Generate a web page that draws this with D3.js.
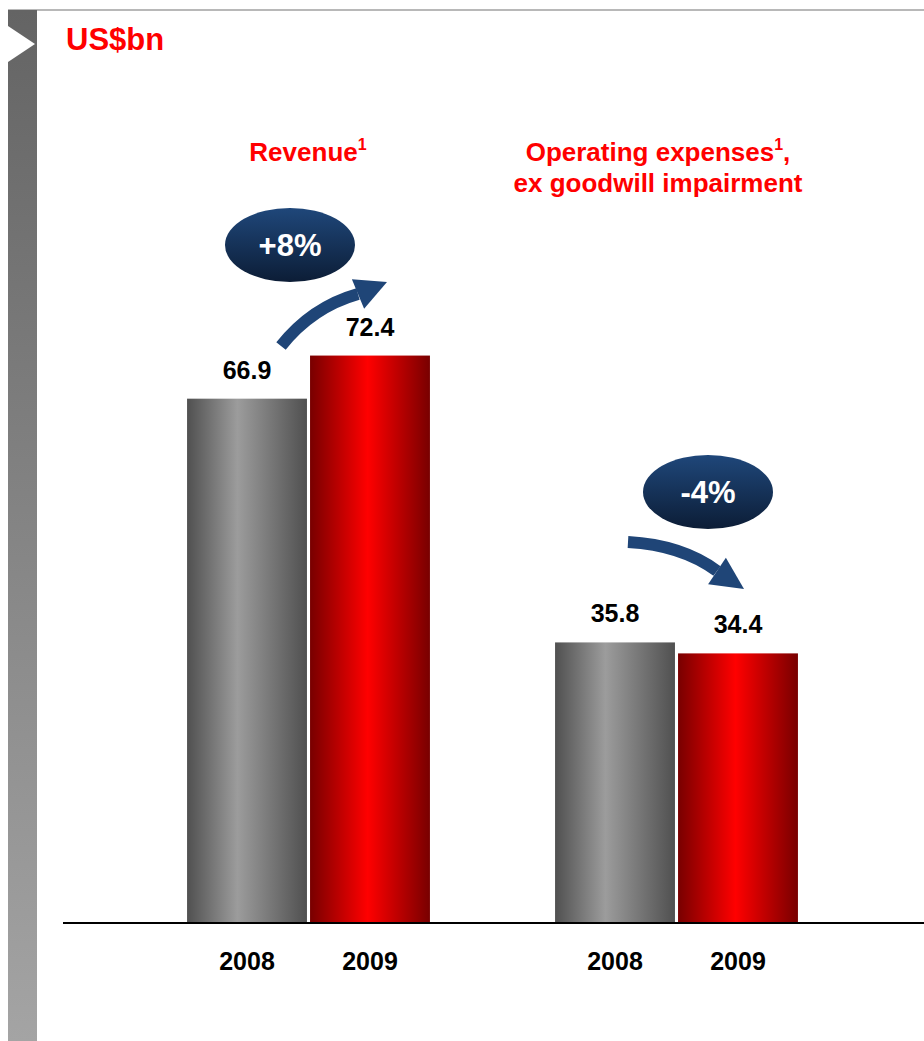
<!DOCTYPE html>
<html>
<head>
<meta charset="utf-8">
<script src="https://cdn.jsdelivr.net/npm/d3@7"></script>
<style>
  html, body { margin: 0; padding: 0; background: #fff; }
  svg { display: block; font-family: "Liberation Sans", Arial, sans-serif; }
</style>
</head>
<body>
<svg id="chart" width="924" height="1041"></svg>
<script>
// Data
const groups = ["Revenue", "Operating expenses"];
const years = ["2008", "2009"];
const revenue = [66.9, 72.4];
const opex = [35.8, 34.4];
const changes = ["+8%", "-4%"];

const svg = d3.select("#chart");
const defs = svg.append("defs");

// Gradients
function hGrad(id, edge, mid, midAt) {
  const g = defs.append("linearGradient").attr("id", id)
    .attr("x1", "0%").attr("x2", "100%").attr("y1", "0%").attr("y2", "0%");
  g.append("stop").attr("offset", "0%").attr("stop-color", edge);
  g.append("stop").attr("offset", midAt).attr("stop-color", mid);
  g.append("stop").attr("offset", "100%").attr("stop-color", edge);
}
hGrad("gradGray", "#505050", "#9c9c9c", "42%");
hGrad("gradRed", "#780000", "#ff0000", "48%");

const sideGrad = defs.append("linearGradient").attr("id", "gradSide")
  .attr("x1", "0").attr("x2", "0").attr("y1", "0").attr("y2", "1");
sideGrad.append("stop").attr("offset", "0%").attr("stop-color", "#646464");
sideGrad.append("stop").attr("offset", "100%").attr("stop-color", "#a4a4a4");

const ovalGrad = defs.append("linearGradient").attr("id", "gradOval")
  .attr("x1", "0").attr("x2", "0").attr("y1", "0").attr("y2", "1");
ovalGrad.append("stop").attr("offset", "0%").attr("stop-color", "#1f477a");
ovalGrad.append("stop").attr("offset", "100%").attr("stop-color", "#0c1d36");

// Page frame: top rule and left side band with notch
svg.append("rect").attr("x", 8).attr("y", 9).attr("width", 916).attr("height", 2).attr("fill", "#b8b8b8");
svg.append("rect").attr("x", 8).attr("y", 10).attr("width", 29).attr("height", 1031).attr("fill", "url(#gradSide)");
svg.append("path").attr("d", "M8,26 L35,44 L8,62 Z").attr("fill", "#fff");

// Unit title
svg.append("text").attr("x", 66).attr("y", 50)
  .attr("fill", "#ff0000").attr("font-weight", "bold").attr("font-size", 31)
  .text("US$bn");

// Scales
const y = d3.scaleLinear().domain([0, 80]).range([923, 296]);
const x0 = d3.scaleBand().domain(groups).range([124.5, 860.5]).paddingInner(0.34).paddingOuter(0.17);
const x1 = d3.scaleBand().domain(years).range([0, x0.bandwidth()]).paddingInner(0.025);

const data = [
  { group: groups[0], values: revenue },
  { group: groups[1], values: opex }
];

const g = svg.selectAll("g.grp").data(data).join("g")
  .attr("class", "grp")
  .attr("transform", d => `translate(${x0(d.group)},0)`);

const bars = g.selectAll("g.bar")
  .data(d => d.values.map((v, i) => ({ year: years[i], value: v })))
  .join("g").attr("class", "bar");

bars.append("rect")
  .attr("x", d => x1(d.year))
  .attr("y", d => y(d.value))
  .attr("width", x1.bandwidth())
  .attr("height", d => y(0) - y(d.value))
  .attr("fill", d => d.year === "2008" ? "url(#gradGray)" : "url(#gradRed)");

bars.append("text")
  .attr("x", d => x1(d.year) + x1.bandwidth() / 2)
  .attr("y", d => y(d.value) - 20)
  .attr("text-anchor", "middle")
  .attr("font-weight", "bold").attr("font-size", 25).attr("fill", "#000")
  .text(d => d.value.toFixed(1));

// Year labels
bars.append("text")
  .attr("x", d => x1(d.year) + x1.bandwidth() / 2)
  .attr("y", 970)
  .attr("text-anchor", "middle")
  .attr("font-weight", "bold").attr("font-size", 25).attr("fill", "#000")
  .text(d => d.year);

// Baseline
svg.append("line").attr("x1", 63).attr("x2", 924).attr("y1", y(0)).attr("y2", y(0))
  .attr("stroke", "#000").attr("stroke-width", 2);

// Group headings
const red = "#ff0000";
const h1 = svg.append("text").attr("x", 308).attr("y", 161).attr("text-anchor", "middle")
  .attr("fill", red).attr("font-weight", "bold").attr("font-size", 26);
h1.append("tspan").text("Revenue");
h1.append("tspan").attr("font-size", 16).attr("dy", -11).text("1");

const h2 = svg.append("text").attr("x", 658).attr("y", 161).attr("text-anchor", "middle")
  .attr("fill", red).attr("font-weight", "bold").attr("font-size", 26);
h2.append("tspan").text("Operating expenses");
h2.append("tspan").attr("font-size", 16).attr("dy", -11).text("1");
h2.append("tspan").attr("dy", 11).text(",");
svg.append("text").attr("x", 658).attr("y", 192).attr("text-anchor", "middle")
  .attr("fill", red).attr("font-weight", "bold").attr("font-size", 26)
  .text("ex goodwill impairment");

// Change ovals
const ovals = [
  { label: changes[0], cx: 290, cy: 245 },
  { label: changes[1], cx: 708, cy: 492 }
];
ovals.forEach(o => {
  svg.append("ellipse").attr("cx", o.cx).attr("cy", o.cy).attr("rx", 65).attr("ry", 37)
    .attr("fill", "url(#gradOval)");
  svg.append("text").attr("x", o.cx).attr("y", o.cy + 11).attr("text-anchor", "middle")
    .attr("fill", "#fff").attr("font-weight", "bold").attr("font-size", 31)
    .text(o.label);
});

// Curved arrows between bars
const arrowColor = "#1f4577";
function curvedArrow(p0, c, p1, tip, halfBase) {
  svg.append("path")
    .attr("d", `M${p0[0]},${p0[1]} Q${c[0]},${c[1]} ${p1[0]},${p1[1]}`)
    .attr("fill", "none").attr("stroke", arrowColor).attr("stroke-width", 12);
  const dx = tip[0] - p1[0], dy = tip[1] - p1[1];
  const len = Math.hypot(dx, dy);
  const nx = -dy / len, ny = dx / len;
  const b1 = [p1[0] + nx * halfBase, p1[1] + ny * halfBase];
  const b2 = [p1[0] - nx * halfBase, p1[1] - ny * halfBase];
  svg.append("path")
    .attr("d", `M${b1[0]},${b1[1]} L${tip[0]},${tip[1]} L${b2[0]},${b2[1]} Z`)
    .attr("fill", arrowColor);
}
curvedArrow([281, 346], [312, 307], [358, 294], [387, 282], 16);
curvedArrow([628, 542], [682, 545], [717, 571], [744, 589], 16);
</script>
</body>
</html>
